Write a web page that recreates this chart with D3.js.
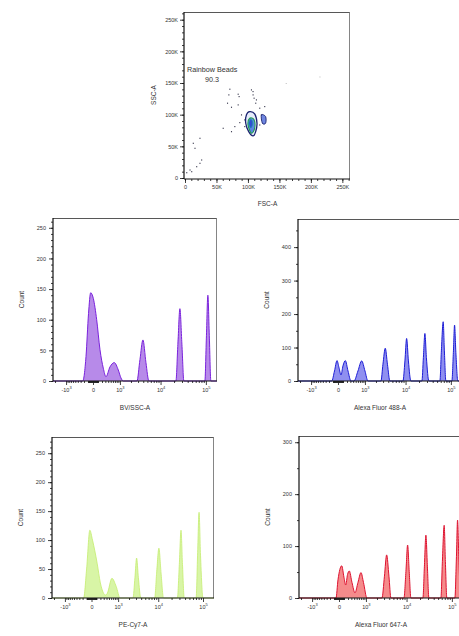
<!DOCTYPE html>
<html>
<head>
<meta charset="utf-8">
<script src="https://cdn.jsdelivr.net/npm/d3@7"></script>
<style>
body { margin: 0; background: #fff; }
text { font-family: "Liberation Sans", Arial, sans-serif; fill: #333; }
</style>
</head>
<body>
<div id="canvas"></div>
<script>
var width = 459,
	height = 636;

// ---- FSC-A / SSC-A dot plot ----
var scatterFsc = [71200, 69600, 67500, 73800, 84400, 85900, 105500, 108100, 109700, 112300, 118700, 126600, 126600, 123900, 87000, 94900, 100100, 118700, 60600, 73800, 79100, 13100, 15800, 26400, 23700, 7900, 2700, 23700, 10600, 18500, 108000, 113400, 89700, 97600, 121300, 94900, 84400];
var scatterSsc = [140300, 131300, 118200, 111800, 132400, 128600, 139200, 131300, 126100, 118200, 110300, 112800, 94400, 86500, 87500, 81200, 83800, 83800, 78600, 73200, 81200, 54900, 47000, 28500, 23300, 12700, 8400, 62800, 10000, 17900, 136500, 123400, 99700, 99700, 99700, 91800, 115500];
var faintFsc = [213600, 160000];
var faintSsc = [160300, 150000];

var contourOuter = [[102800, 104900], [97600, 99700], [96500, 86500], [101200, 73200], [108100, 66400], [112300, 73200], [114400, 86500], [110700, 101200]];
var contourGreen = [[102800, 94400], [100100, 83800], [105500, 70700], [110700, 78600], [109700, 91800]];
var contourCore = [[103500, 92000], [101500, 86000], [104500, 79000], [107500, 85000], [106500, 91000]];
var contourSide = [[121300, 99700], [128100, 97000], [128100, 86500], [122900, 86500]];

var gateName = "Rainbow Beads",
	gatePct = "90.3";
var linTicks = [0, 50000, 100000, 150000, 200000, 250000];
var linTickLabels = ["0", "50K", "100K", "150K", "200K", "250K"];

// ---- histograms, biexponential x axis ----
var biexTicks = [-1000, 0, 1000, 10000, 100000];
var biexTickExp = ["3", "", "3", "4", "5"];

var bvHist = [[-2250, 0], [-236, 0], [-147, 40], [-88, 110], [-43, 144], [5, 135], [71, 100], [147, 51], [236, 21], [321, 7], [470, 23], [667, 30], [893, 18], [1072, 5], [1246, 0],
	[2818, 0], [3335, 35], [3931, 67], [4624, 30], [5430, 0],
	[21980, 0], [24330, 60], [26950, 118], [29820, 60], [33000, 0],
	[95060, 0], [102550, 70], [110600, 140], [119300, 70], [128600, 0], [175000, 0]];

var af488Hist = [[-2250, 0], [-130, 0], [-67, 30], [-18, 61], [18, 40], [57, 18], [99, 45], [155, 61], [228, 30], [321, 0],
	[430, 0], [602, 30], [797, 60], [1003, 30], [1222, 0],
	[2664, 0], [2982, 50], [3392, 98], [3826, 50], [4382, 0],
	[8722, 0], [9678, 60], [10567, 127], [11592, 60], [13181, 0],
	[23135, 0], [24955, 70], [26950, 142], [29085, 70], [33005, 0],
	[57505, 0], [62020, 90], [67900, 177], [72135, 90], [77770, 0],
	[105140, 0], [113400, 85], [120440, 167], [128560, 85], [142140, 0], [175000, 0]];

var pecy7Hist = [[-2250, 0], [-173, 0], [-99, 50], [-31, 117], [18, 100], [116, 60], [199, 26], [288, 9], [356, 5], [430, 8], [637, 34], [874, 20], [1145, 0],
	[2517, 0], [2818, 35], [3101, 69], [3427, 35], [3931, 0],
	[8278, 0], [9188, 43], [10350, 86], [11592, 43], [13181, 0],
	[26950, 0], [29820, 58], [32515, 117], [35070, 58], [38395, 0],
	[70315, 0], [75845, 74], [81760, 148], [88165, 74], [99960, 0], [175000, 0]];

var af647Hist = [[-2250, 0], [-57, 0], [-18, 35], [51, 62], [99, 40], [140, 25], [186, 45], [236, 52], [321, 30], [430, 10], [556, 30], [704, 49], [844, 30], [1072, 0],
	[2664, 0], [3066, 42], [3465, 83], [3931, 42], [4382, 0],
	[8722, 0], [9678, 51], [10567, 102], [11473, 51], [12523, 0],
	[23135, 0], [24955, 60], [26950, 121], [29085, 60], [31360, 0],
	[57505, 0], [62020, 70], [67900, 140], [72135, 70], [77770, 0],
	[116270, 0], [125400, 75], [133175, 150], [142140, 75], [157115, 0], [175000, 0]];

var svg = d3.select("#canvas")
	.append("svg")
		.attr("width", width)
		.attr("height", height)
		.style("background-color", "#fff");

function frame(g, x0, x1, y0, y1) {
	g.append("line").attr("x1", x0).attr("x2", x1).attr("y1", y0 + 0.5).attr("y2", y0 + 0.5)
		.attr("stroke", "#444").attr("stroke-width", 0.9);
	g.append("line").attr("x1", x1 - 0.5).attr("x2", x1 - 0.5).attr("y1", y0).attr("y2", y1)
		.attr("stroke", "#777").attr("stroke-width", 0.9);
	g.append("line").attr("x1", x0).attr("x2", x1).attr("y1", y1).attr("y2", y1)
		.attr("stroke", "#111").attr("stroke-width", 1.2);
	g.append("line").attr("x1", x0).attr("x2", x0).attr("y1", y0).attr("y2", y1)
		.attr("stroke", "#111").attr("stroke-width", 1.2);
}

function styleAxis(a) {
	a.select(".domain").remove();
	a.selectAll(".tick line").attr("stroke", "#111").attr("stroke-width", 0.8);
	a.selectAll(".tick text").attr("font-size", 5.5).attr("fill", "#333")
		.style("font-family", "'Liberation Sans', Arial, sans-serif");
}

// ---------- dot plot ----------
(function(){
	var x0 = 185, x1 = 350, y0 = 12, y1 = 178;
	var x = d3.scaleLinear().domain([0, 262144]).range([x0, x1]);
	var y = d3.scaleLinear().domain([0, 262144]).range([y1, y0]);
	var g = svg.append("g");

	var dots = scatterFsc.map(function(d, i){ return [d, scatterSsc[i]]; });
	g.selectAll(".dot").data(dots).enter()
		.append("rect").classed("dot", true)
		.attr("x", function(d){ return x(d[0]) - 0.5; })
		.attr("y", function(d){ return y(d[1]) - 0.5; })
		.attr("width", 1.1).attr("height", 1.1)
		.attr("fill", "#2a2a40");
	g.selectAll(".fdot").data(faintFsc.map(function(d, i){ return [d, faintSsc[i]]; })).enter()
		.append("rect").classed("fdot", true)
		.attr("x", function(d){ return x(d[0]); })
		.attr("y", function(d){ return y(d[1]); })
		.attr("width", 1).attr("height", 1)
		.attr("fill", "#bbb");

	var shape = d3.line()
		.x(function(d){ return x(d[0]); })
		.y(function(d){ return y(d[1]); })
		.curve(d3.curveCardinalClosed);

	g.append("path").datum(contourOuter).attr("d", shape)
		.attr("fill", "#e6ecfb").attr("stroke", "#1b2370").attr("stroke-width", 1.3);
	g.append("path").datum(contourGreen).attr("d", shape)
		.attr("fill", "#5a86e6").attr("stroke", "#1f9a52").attr("stroke-width", 1.1);
	g.append("path").datum(contourCore).attr("d", shape)
		.attr("fill", "#2c4fd2").attr("stroke", "#1a9aa0").attr("stroke-width", 0.7);
	g.append("path").datum(contourSide).attr("d", shape)
		.attr("fill", "#6f86e0").attr("stroke", "#1b2370").attr("stroke-width", 0.9);

	frame(g, x0 - 1, x1, y0, y1 + 1);

	var ax = g.append("g").attr("transform", "translate(0," + (y1 + 1) + ")")
		.call(d3.axisBottom(x).tickValues(linTicks).tickSize(4).tickPadding(2)
			.tickFormat(function(d, i){ return linTickLabels[i]; }));
	styleAxis(ax);
	var axm = g.append("g").attr("transform", "translate(0," + (y1 + 1) + ")")
		.call(d3.axisBottom(x).tickValues(d3.range(0, 262144, 10000)).tickSize(2).tickFormat(""));
	styleAxis(axm);
	var ay = g.append("g").attr("transform", "translate(" + (x0 - 1) + ",0)")
		.call(d3.axisLeft(y).tickValues(linTicks).tickSize(4).tickPadding(2)
			.tickFormat(function(d, i){ return linTickLabels[i]; }));
	styleAxis(ay);
	var aym = g.append("g").attr("transform", "translate(" + (x0 - 1) + ",0)")
		.call(d3.axisLeft(y).tickValues(d3.range(0, 262144, 10000)).tickSize(2).tickFormat(""));
	styleAxis(aym);

	g.append("text").attr("x", 187).attr("y", 72).attr("font-size", 7.2).text(gateName);
	g.append("text").attr("x", 212).attr("y", 82).attr("font-size", 7.2)
		.attr("text-anchor", "middle").text(gatePct);

	g.append("text").attr("x", (x0 + x1) / 2).attr("y", 206).attr("font-size", 6.5)
		.attr("text-anchor", "middle").text("FSC-A");
	g.append("text").attr("transform", "translate(156," + ((y0 + y1) / 2) + ") rotate(-90)")
		.attr("font-size", 6.5).attr("text-anchor", "middle").text("SSC-A");
})();

// ---------- histograms ----------
var biexMinor = [];
for (var k = 1; k <= 5; k++) {
	for (var m = 1; m <= 9; m++) {
		[m * Math.pow(10, k), -m * Math.pow(10, k)].forEach(function(v){
			if (v > -2250 && v < 175000 && biexTicks.indexOf(v) < 0) biexMinor.push(v);
		});
	}
}

function histPanel(cfg) {
	var x = d3.scaleSymlog().constant(350).domain([-2250, 175000]).range([cfg.x0, cfg.x1]);
	var y = d3.scaleLinear().domain([0, cfg.yMax]).range([cfg.y1, cfg.y0]);
	var g = svg.append("g");

	var area = d3.area()
		.curve(d3.curveMonotoneX)
		.x(function(d){ return x(d[0]); })
		.y0(y(0))
		.y1(function(d){ return y(d[1]); });

	g.append("path").datum(cfg.data).attr("d", area).attr("fill", cfg.fill);
	g.append("path").datum(cfg.data).attr("d", area.lineY1())
		.attr("fill", "none").attr("stroke", cfg.stroke).attr("stroke-width", cfg.sw || 1);

	frame(g, cfg.x0, cfg.x1, cfg.y0, cfg.y1);

	var ax = g.append("g").attr("transform", "translate(0," + cfg.y1 + ")")
		.call(d3.axisBottom(x).tickValues(biexTicks).tickSize(4).tickPadding(3).tickFormat(""));
	styleAxis(ax);
	ax.selectAll(".tick text").each(function(d){
		var t = d3.select(this);
		var i = biexTicks.indexOf(d);
		if (d === 0) { t.text("0"); return; }
		t.text(d < 0 ? "-10" : "10");
		t.append("tspan").attr("dy", -2.5).attr("font-size", 4).text(biexTickExp[i]);
	});
	var axm = g.append("g").attr("transform", "translate(0," + cfg.y1 + ")")
		.call(d3.axisBottom(x).tickValues(biexMinor).tickSize(2).tickFormat(""));
	styleAxis(axm);

	var ay = g.append("g").attr("transform", "translate(" + cfg.x0 + ",0)")
		.call(d3.axisLeft(y).tickValues(cfg.yTicks).tickSize(4).tickPadding(3).tickFormat(d3.format("d")));
	styleAxis(ay);
	var aym = g.append("g").attr("transform", "translate(" + cfg.x0 + ",0)")
		.call(d3.axisLeft(y).tickValues(d3.range(0, cfg.yMax, cfg.yMinor)).tickSize(2).tickFormat(""));
	styleAxis(aym);

	g.append("text").attr("x", (cfg.x0 + cfg.x1) / 2).attr("y", cfg.y1 + 29).attr("font-size", 6.5)
		.attr("text-anchor", "middle").text(cfg.xLabel);
	g.append("text").attr("transform", "translate(" + (cfg.x0 - 29) + "," + ((cfg.y0 + cfg.y1) / 2) + ") rotate(-90)")
		.attr("font-size", 6.5).attr("text-anchor", "middle").text("Count");
}

histPanel({ x0: 53, x1: 217, y0: 218, y1: 381, yMax: 266, yTicks: [0, 50, 100, 150, 200, 250], yMinor: 10,
	data: bvHist, fill: "#b78ae9", stroke: "#7a22dc", xLabel: "BV/SSC-A" });
histPanel({ x0: 298, x1: 462, y0: 219, y1: 381, yMax: 484, yTicks: [0, 100, 200, 300, 400], yMinor: 50,
	data: af488Hist, fill: "#8f8ff0", stroke: "#1d1dd6", xLabel: "Alexa Fluor 488-A" });
histPanel({ x0: 52, x1: 214, y0: 437, y1: 598, yMax: 278, yTicks: [0, 50, 100, 150, 200, 250], yMinor: 10,
	data: pecy7Hist, fill: "#d8f5a6", stroke: "#c4ec6e", sw: 0.8, xLabel: "PE-Cy7-A" });
histPanel({ x0: 299, x1: 463, y0: 436, y1: 598, yMax: 312, yTicks: [0, 100, 200, 300], yMinor: 50,
	data: af647Hist, fill: "#f58b8b", stroke: "#de1230", xLabel: "Alexa Fluor 647-A" });
</script>
</body>
</html>
